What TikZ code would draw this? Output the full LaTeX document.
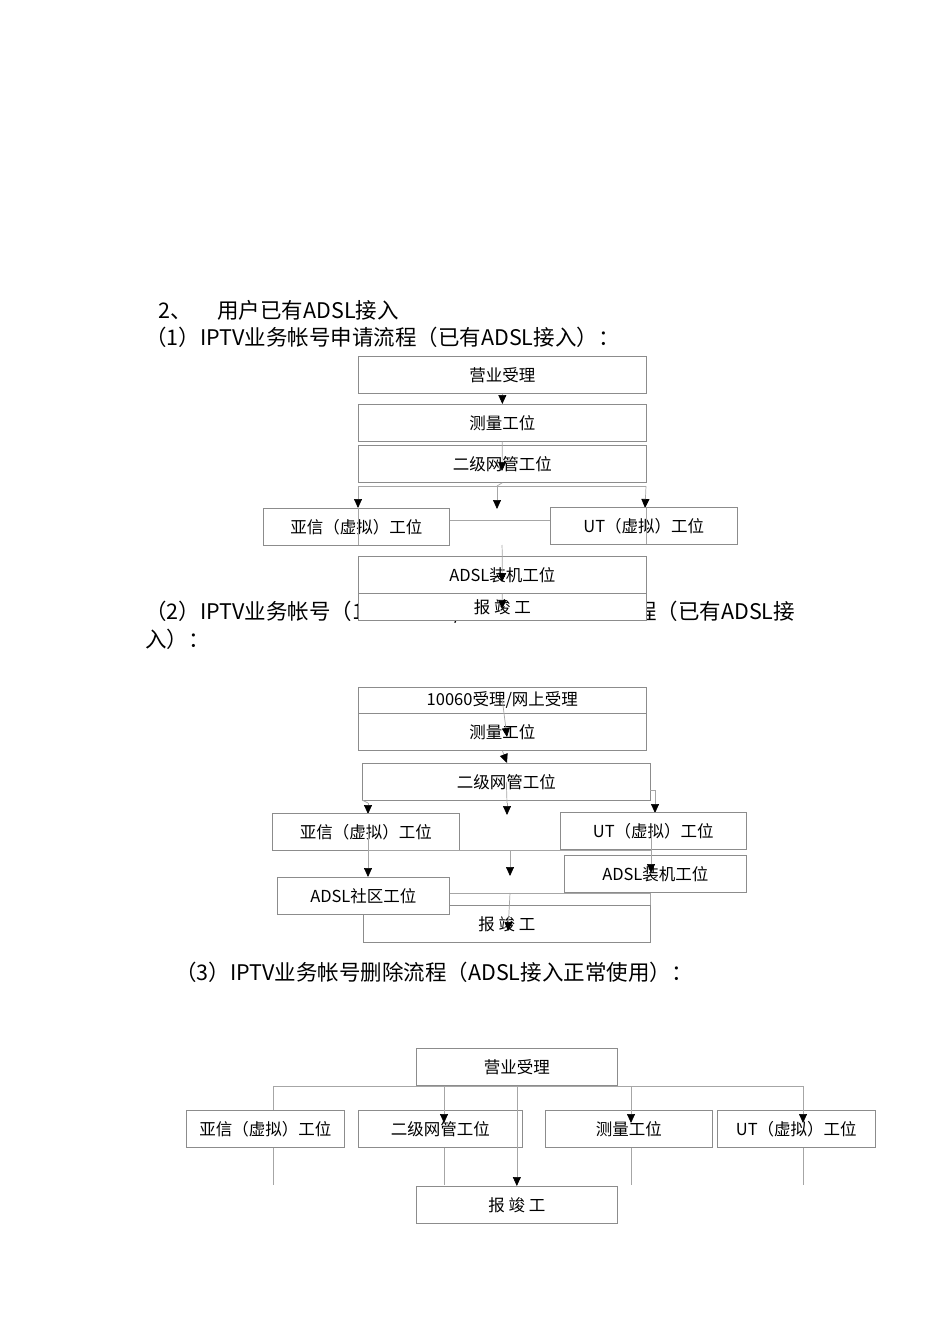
\documentclass[tikz,border=0pt]{standalone}
\usepackage{fontspec}
\setmainfont{Liberation Serif}
\newfontfamily\cjk{Noto Sans CJK SC}
\usetikzlibrary{arrows.meta}
\begin{document}
\begin{tikzpicture}[x=1pt,y=-1pt,
  box/.style={draw=black!45,line width=0.7pt,fill=white,inner sep=0pt,anchor=north west,font=\fontsize{16.5}{16.5}\selectfont\cjk},
  ln/.style={draw=black!35,line width=0.7pt},
  ar/.style={ln,-{Triangle[length=9pt,width=8pt,black]}},
  ttl/.style={anchor=west,inner sep=0pt,font=\fontsize{21.5}{21.5}\selectfont\cjk}]
\useasboundingbox (0,0) rectangle (950,1344);
\newcommand{\bx}[6]{\node[box,minimum width=#4-#2,minimum height=#5-#3] (#1) at (#2,#3) {#6};}
% headings
\node[ttl] (h0) at (158,310) {2、\hspace{1.2em}用户已有ADSL接入};
\node[ttl] (h1) at (145,337) {（1）IPTV业务帐号申请流程（已有ADSL接入）：};
\node[ttl] (h2) at (145,612) {（2）IPTV业务帐号（10060受理/网上受理）申请流程（已有ADSL接};
\node[ttl] (h2b) at (145,639) {入）：};
\node[ttl] (h3) at (175,972) {（3）IPTV业务帐号删除流程（ADSL接入正常使用）：};
% chart 1
\bx{a1}{358}{356}{646}{393}{营业受理}
\bx{a2}{358}{404}{646}{441}{测量工位}
\bx{a3}{358}{445}{646}{482}{二级网管工位}
\coordinate (j1) at (358,486); \coordinate (j2) at (646,486); \coordinate (j3) at (497,486);
\draw[ln] (a3.south) -- (j3);
\draw[ln] (j1) -- (j2);
\draw[ar] (j1) -- (358,508);
\draw[ar] (j3) -- (497,509);
\draw[ar] (j2) -- (645,508);
\bx{b1}{263}{508}{449}{545}{亚信（虚拟）工位}
\bx{b2}{550}{507}{737}{544}{UT（虚拟）工位}
\draw[ln] (b1.east |- 0,520) -- (b2.west |- 0,520);
\draw[ln] (358,508) -- (358,545);
\draw[ln] (646,508) -- (646,544);
\draw[ar] (a1.south) -- (a2.north);
\draw[ar] (a2.south) -- (502,471);
\bx{c1}{358}{556}{646}{593}{ADSL装机工位}
\bx{c2}{358}{593}{646}{620}{报 竣 工}
\draw[ln] (502,545) -- (c1.north);
\draw[ar] (c1.north) -- (502,582);
\draw[ar] (c1.south) -- (502,609);
% chart 2
\bx{d1}{358}{687}{646}{713}{10060受理/网上受理}
\bx{d2}{358}{713}{646}{750}{测量工位}
\draw[ar] (d1.center) -- (507,737);
\draw[ar] (d2.south) -- (507,763);
\bx{d3}{362}{763}{650}{800}{二级网管工位}
\coordinate (k1) at (368,803); \coordinate (k2) at (655,803); \coordinate (k3) at (507,803);
\draw[ln] (d3.center) -- (k3);
\draw[ln] (650,790) -- (655,790) -- (k2);
\draw[ln] (362,800) -- (k1);
\draw[ar] (k1) -- (368,814);
\draw[ar] (k3) -- (507,815);
\draw[ar] (k2) -- (655,813);
\bx{e1}{272}{813}{459}{850}{亚信（虚拟）工位}
\bx{e2}{560}{812}{746}{849}{UT（虚拟）工位}
\coordinate (m1) at (368,850); \coordinate (m2) at (651,850); \coordinate (m3) at (510,850);
\draw[ln] (368,830) -- (m1) -- (m2) -- (651,830);
\draw[ar] (m1) -- (368,877);
\draw[ar] (m3) -- (510,876);
\bx{f1}{564}{855}{746}{892}{ADSL装机工位}
\draw[ar] (m2) -- (651,873);
\bx{g2}{363}{905}{650}{942}{报 竣 工}
\bx{g1}{277}{877}{449}{914}{ADSL社区工位}
\draw[ln] (g1.east |- 0,893) -- (650,893) -- (650,905);
\draw[ar] (510,893) -- (508,931);
% chart 3
\bx{p1}{416}{1048}{617}{1085}{营业受理}
\coordinate (q1) at (273,1086); \coordinate (q4) at (803,1086);
\draw[ln] (q1) -- (q4);
\bx{r1}{186}{1110}{344}{1147}{亚信（虚拟）工位}
\bx{r2}{358}{1110}{522}{1147}{二级网管工位}
\bx{r3}{545}{1110}{712}{1147}{测量工位}
\bx{r4}{717}{1110}{875}{1147}{UT（虚拟）工位}
\draw[ln] (q1) -- (r1.north -| q1);
\draw[ar] (444,1086) -- (444,1123);
\draw[ar] (631,1086) -- (631,1123);
\draw[ar] (803,1086) -- (803,1123);
\bx{s1}{416}{1186}{617}{1223}{报 竣 工}
\draw[ar] (p1.south) -- (s1.north);
\draw[ln] (r1.south -| 273,0) -- (273,1185);
\draw[ln] (r2.south -| 444,0) -- (444,1185);
\draw[ln] (r3.south -| 631,0) -- (631,1185);
\draw[ln] (r4.south -| 803,0) -- (803,1185);
\end{tikzpicture}
\end{document}
